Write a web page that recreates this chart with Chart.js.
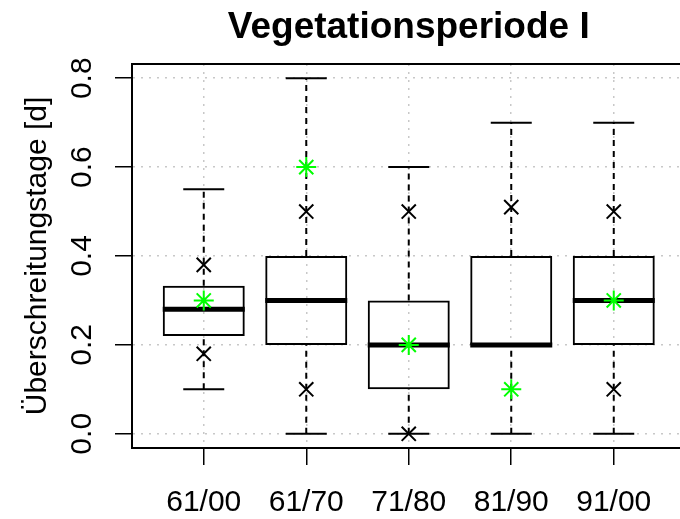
<!DOCTYPE html>
<html><head><meta charset="utf-8">
<script src="https://cdn.jsdelivr.net/npm/chart.js@4/dist/chart.umd.min.js"></script>
<style>
html,body{margin:0;padding:0;background:#fff;overflow:hidden;width:680px;height:519px}
#wrap{width:700px;height:519px}
</style>
</head><body><div id="wrap"><canvas id="c" width="700" height="519"></canvas></div>
<script>
// ---- data ----
const titleText = 'Vegetationsperiode I';
const yTitle = 'Überschreitungstage [d]';
const categories = ['61/00', '61/70', '71/80', '81/90', '91/00'];
const whiskerLow  = [0.10, 0.00, 0.00, 0.00, 0.00];
const q1          = [0.22, 0.20, 0.10, 0.20, 0.20];
const median      = [0.28, 0.30, 0.20, 0.20, 0.30];
const q3          = [0.333, 0.40, 0.30, 0.40, 0.40];
const whiskerHigh = [0.55, 0.80, 0.60, 0.70, 0.70];
const markHigh    = [0.38, 0.50, 0.50, 0.51, 0.50];   // black x
const markLow     = [0.18, 0.10, 0.00, null, 0.10];   // black x
const meanVals    = [0.30, 0.60, 0.20, 0.10, 0.30];   // green star
const yTicks      = [0.0, 0.2, 0.4, 0.6, 0.8];

// ---- derived structures ----
const pos = categories.map((_, i) => i + 1);
const capHalf = 0.2, boxHalf = 0.4;
const boxData = pos.map((x, i) => ({x, y: [q1[i], q3[i]]}));
const whiskerPts = pos.flatMap((x, i) => [
  {x, y: q3[i]}, {x, y: whiskerHigh[i]}, {x, y: null},
  {x, y: whiskerLow[i]}, {x, y: q1[i]}, {x, y: null}]);
const capPts = pos.flatMap((x, i) => [
  {x: x - capHalf, y: whiskerHigh[i]}, {x: x + capHalf, y: whiskerHigh[i]}, {x, y: null},
  {x: x - capHalf, y: whiskerLow[i]}, {x: x + capHalf, y: whiskerLow[i]}, {x, y: null}]);
const medPts = pos.flatMap((x, i) => [
  {x: x - boxHalf, y: median[i]}, {x: x + boxHalf, y: median[i]}, {x, y: null}]);
const markPts = pos.flatMap((x, i) => [{x, y: markHigh[i]}, {x, y: markLow[i]}]).filter(p => p.y !== null);
const meanPts = pos.map((x, i) => ({x, y: meanVals[i]}));

const FONT = '"Liberation Sans", Arial, Helvetica, sans-serif';
Chart.defaults.font.family = FONT;
Chart.defaults.color = '#000';

const framePlugin = {
  id: 'frameTitle',
  afterDraw(chart) {
    const {ctx, chartArea: a} = chart;
    ctx.save();
    ctx.strokeStyle = '#000';
    ctx.lineWidth = 2;
    ctx.strokeRect(a.left, a.top, a.right - a.left, a.bottom - a.top);
    ctx.font = 'bold 37px ' + FONT;
    ctx.fillStyle = '#000';
    ctx.textAlign = 'center';
    ctx.textBaseline = 'alphabetic';
    ctx.fillText(titleText, (a.left + a.right) / 2, 38);
    ctx.restore();
  }
};

new Chart(document.getElementById('c'), {
  type: 'bar',
  data: {
    datasets: [
      {type: 'scatter', data: meanPts, pointStyle: 'star', pointRadius: 10, pointBorderWidth: 2,
       borderColor: '#00ff00', backgroundColor: '#00ff00', order: 1},
      {type: 'scatter', data: markPts, pointStyle: 'crossRot', pointRadius: 10, pointBorderWidth: 2,
       borderColor: '#000', backgroundColor: '#000', order: 2},
      {type: 'line', data: medPts, borderColor: '#000', borderWidth: 5, pointRadius: 0,
       borderCapStyle: 'butt', spanGaps: false, order: 3},
      {type: 'line', data: capPts, borderColor: '#000', borderWidth: 2, pointRadius: 0,
       spanGaps: false, order: 4},
      {type: 'line', data: whiskerPts, borderColor: '#000', borderWidth: 2, borderDash: [6, 5],
       pointRadius: 0, spanGaps: false, order: 5},
      {type: 'bar', data: boxData, backgroundColor: 'rgba(0,0,0,0)', borderColor: '#000',
       borderWidth: 2, borderSkipped: false, barPercentage: 0.8, categoryPercentage: 1, order: 6}
    ]
  },
  options: {
    responsive: false,
    animation: false,
    events: [],
    layout: {padding: {left: 0, top: 64, right: 14.5, bottom: 0}},
    plugins: {legend: {display: false}, tooltip: {enabled: false}, title: {display: false}},
    scales: {
      x: {
        type: 'linear', min: 0.3, max: 5.7, offset: false,
        afterFit: s => { s.height = 71; },
        grid: {offset: false, color: '#c8c8c8', lineWidth: 1.5, tickColor: '#000', tickLength: 17, tickWidth: 1.5,
               tickBorderDash: [], drawTicks: true},
        border: {display: true, color: '#000', width: 2, dash: [2, 6]},
        ticks: {stepSize: 1, includeBounds: false, autoSkip: false, maxRotation: 0, minRotation: 0,
                padding: 20, font: {size: 30}, color: '#000',
                callback: v => categories[Math.round(v) - 1] ?? ''}
      },
      y: {
        type: 'linear', min: -0.032, max: 0.832, offset: false,
        afterFit: s => { s.width = 132; },
        afterBuildTicks: s => { s.ticks = yTicks.map(v => ({value: v})); },
        grid: {offset: false, color: '#c8c8c8', lineWidth: 1.5, tickColor: '#000', tickLength: 17, tickWidth: 1.5,
               tickBorderDash: [], drawTicks: true},
        border: {display: true, color: '#000', width: 2, dash: [2, 6]},
        ticks: {includeBounds: false, minRotation: 90, maxRotation: 90, crossAlign: 'center',
                padding: 11, font: {size: 30}, color: '#000',
                callback: v => v.toFixed(1)},
        title: {display: true, text: yTitle, font: {size: 30}, color: '#000',
                padding: {top: 20, bottom: 0}}
      }
    }
  },
  plugins: [framePlugin]
});
</script>
</body></html>
